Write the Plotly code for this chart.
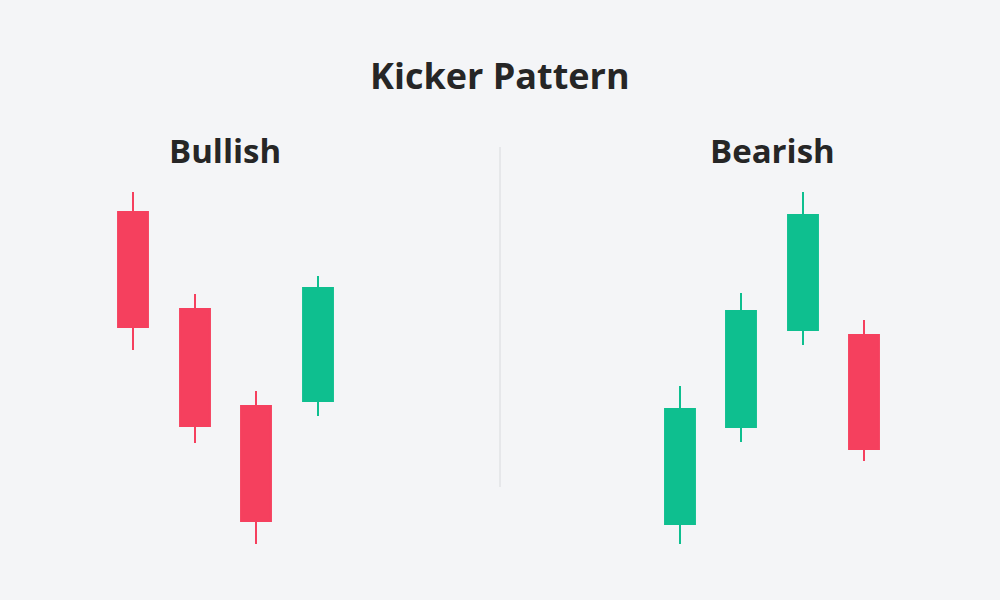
import plotly.graph_objects as go

# values (price units = 600 - pixel row)
bull_x = [133, 195, 256, 318]
bull_open = [388, 291, 194, 199]
bull_high = [408, 306, 209, 324]
bull_low = [250, 157, 56, 184]
bull_close = [273, 174, 79, 312]

bear_x = [680, 741, 803, 864]
bear_open = [76, 173, 270, 265]
bear_high = [214, 307, 408, 280]
bear_low = [56, 158, 255, 139]
bear_close = [191, 289, 385, 151]

red = "#f5405e"
green = "#0ebf8f"

fig = go.Figure()
for xs, o, h, l, c, ax in [(bull_x, bull_open, bull_high, bull_low, bull_close, "x"),
                           (bear_x, bear_open, bear_high, bear_low, bear_close, "x2")]:
    fig.add_trace(go.Candlestick(
        x=xs, open=o, high=h, low=l, close=c, xaxis=ax, yaxis="y",
        increasing=dict(line=dict(color=green, width=2), fillcolor=green),
        decreasing=dict(line=dict(color=red, width=2), fillcolor=red),
        whiskerwidth=0, showlegend=False, hoverinfo="skip"))

fig.add_shape(type="line", xref="paper", yref="paper", x0=0.5, x1=0.5,
              y0=1 - 487 / 600, y1=1 - 147 / 600, line=dict(color="#d8dadd", width=1))

fnt = dict(family="Open Sans", color="#262626")
for txt, x, y, s in [("Kicker Pattern", 500, 75, 36), ("Bullish", 225, 150, 33), ("Bearish", 772, 150, 33)]:
    fig.add_annotation(text="<b>" + txt + "</b>", x=x / 1000, y=1 - y / 600, xref="paper", yref="paper",
                       xanchor="center", yanchor="middle", showarrow=False, font=dict(size=s, **fnt))

hidden = dict(visible=False, fixedrange=True)
fig.update_layout(
    width=1000, height=600, margin=dict(l=0, r=0, t=0, b=0),
    paper_bgcolor="#f4f5f7", plot_bgcolor="#f4f5f7",
    xaxis=dict(domain=[0, 0.5], range=[0, 500], rangeslider=dict(visible=False), **hidden),
    xaxis2=dict(domain=[0.5, 1], range=[500, 1000], rangeslider=dict(visible=False), **hidden),
    yaxis=dict(range=[0, 600], **hidden),
)

fig.write_html("out.html", config={"displayModeBar": False},
               post_script="document.body.style.margin='0';document.body.style.background='#f4f5f7';")
